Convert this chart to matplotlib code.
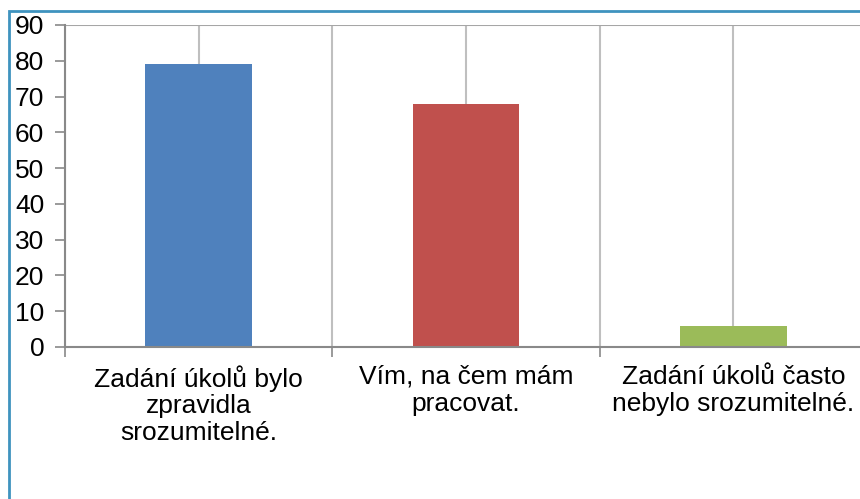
import matplotlib.pyplot as plt
from matplotlib.patches import Rectangle

categories = ["Zadání úkolů bylo\nzpravidla\nsrozumitelné.",
              "Vím, na čem mám\npracovat.",
              "Zadání úkolů často\nnebylo srozumitelné."]
values = [79, 68, 6]
colors = ['#4F81BD', '#C0504D', '#9BBB59']
yticks = [0, 10, 20, 30, 40, 50, 60, 70, 80, 90]

plt.rcParams['font.family'] = ['Liberation Sans', 'DejaVu Sans']

fig = plt.figure(figsize=(8.6, 4.99), dpi=100)
fig.patches.append(Rectangle((9 / 860, -0.1), 1.1, 1 - 11 / 499 + 0.1,
                             transform=fig.transFigure, fill=False,
                             edgecolor='#3f93bf', lw=2))

ax = fig.add_axes([65 / 860, 1 - 347 / 499, 802 / 860, 322 / 499])
x = list(range(1, len(values) + 1))
ax.bar(x, values, width=0.4, color=colors, zorder=3)

ax.set_xlim(0.5, 3.5)
ax.set_ylim(0, 90)
ax.set_yticks(yticks)
ax.tick_params(axis='y', labelsize=19, length=7, color='#898989', width=1.2, pad=8)

# vertical gridlines at category centers and boundaries
for g in [0.5, 1, 1.5, 2, 2.5, 3, 3.5]:
    ax.axvline(g, color='#bfbfbf', lw=1.5, zorder=1)
ax.axhline(90, color='#a6a6a6', lw=1.5, zorder=1)

ax.set_xticks([0.5, 1.5, 2.5, 3.5])
ax.set_xticklabels([])
ax.tick_params(axis='x', length=7, color='#898989', width=1.2)
for xi, lab in zip(x, categories):
    ax.text(xi, -5.0, lab, ha='center', va='top', fontsize=19, linespacing=1.15)

for s in ['top', 'right']:
    ax.spines[s].set_visible(False)
for s in ['left', 'bottom']:
    ax.spines[s].set_color('#898989')
    ax.spines[s].set_linewidth(1.5)
    ax.spines[s].set_zorder(4)

fig.savefig('out.png', dpi=100)
